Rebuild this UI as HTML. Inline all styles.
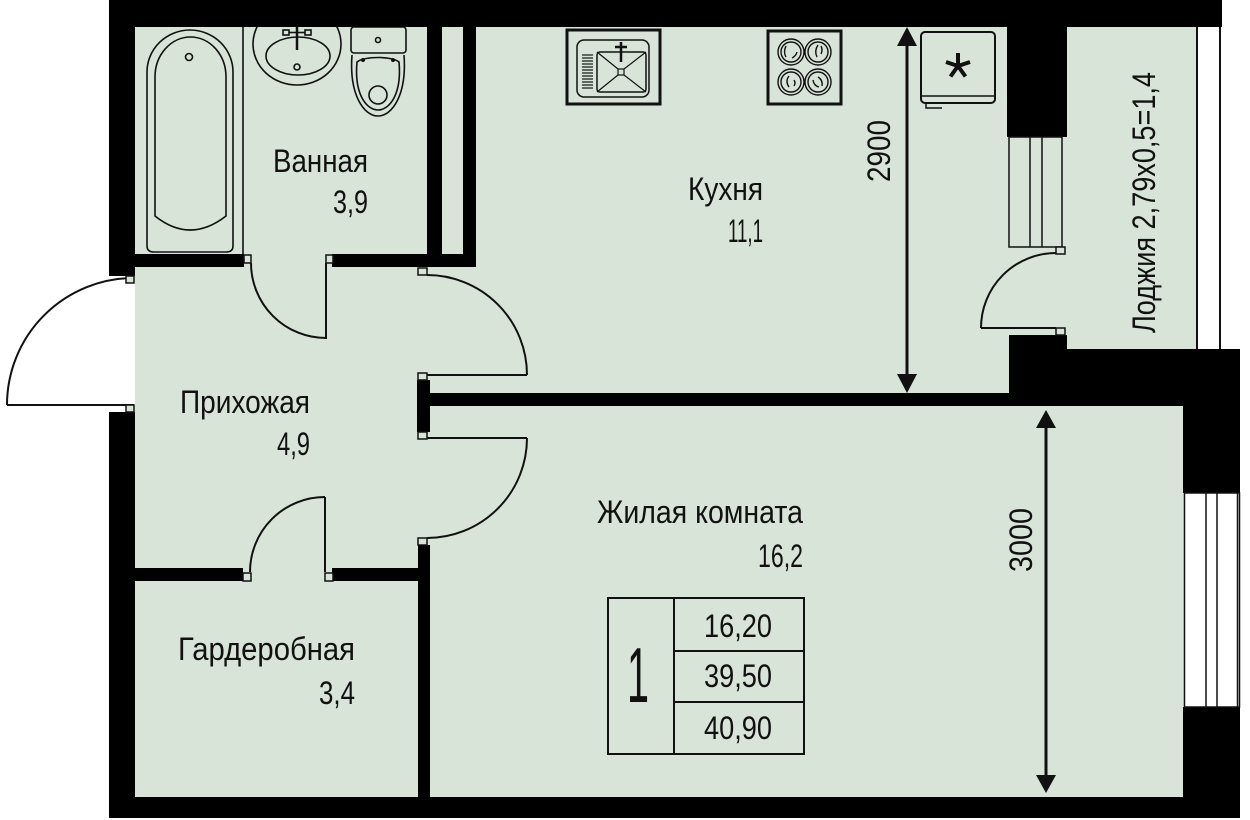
<!DOCTYPE html>
<html>
<head>
<meta charset="utf-8">
<style>
html,body{margin:0;padding:0;background:#fff;}
svg{display:block;}
text{font-family:"Liberation Sans Narrow","Liberation Sans",sans-serif;fill:#111;}
</style>
</head>
<body>
<svg width="1250" height="820" viewBox="0 0 1250 820" xmlns="http://www.w3.org/2000/svg">
<rect width="1250" height="820" fill="#fff"/>
<!-- interior floor -->
<rect x="135" y="27" width="1062" height="770" fill="#d7e4d7"/>

<!-- ===== Bathroom fixtures ===== -->
<g fill="none" stroke="#111" stroke-width="1.6">
  <line x1="243" y1="27" x2="243" y2="255"/>
  <path d="M147,246 V72 A43,42 0 0 1 233,72 V246 Q233,252 226,252 H154 Q147,252 147,246 Z"/>
  <path d="M155,216 V77 A35.5,40 0 0 1 226,77 V216 Q190,244 155,216 Z"/>
  <circle cx="189" cy="57" r="3.5"/>
  <!-- sink -->
  <ellipse cx="297" cy="44" rx="44" ry="41"/>
  <ellipse cx="298" cy="56" rx="32" ry="19"/>
  <circle cx="297" cy="67" r="3"/>
  <rect x="283" y="30" width="6" height="5"/>
  <rect x="305" y="30" width="6" height="5"/>
  <line x1="289" y1="32.5" x2="305" y2="32.5"/>
  <!-- toilet -->
  <rect x="351" y="27" width="55" height="26" rx="3"/>
  <circle cx="378" cy="40" r="2.5"/>
  <path d="M352,55 C349,95 364,116 378,116 C392,116 407,95 404,55"/>
  <path d="M357,62 C354,95 367,110 378,110 C389,110 402,95 399,62 C392,56 364,56 357,62 Z"/>
  <circle cx="378" cy="95" r="9"/>
</g>
<circle cx="363" cy="60" r="2" fill="#111"/>
<circle cx="393" cy="60" r="2" fill="#111"/>
<line x1="297" y1="27" x2="297" y2="50" stroke="#111" stroke-width="2.5"/>

<!-- ===== Kitchen fixtures ===== -->
<g fill="none" stroke="#111">
  <rect x="567" y="30" width="93" height="74" stroke-width="3"/>
  <rect x="577" y="40" width="72" height="57" rx="7" stroke-width="1.5"/>
  <rect x="597" y="52" width="49" height="40" rx="3" stroke-width="1.5"/>
  <line x1="597" y1="52" x2="618" y2="69" stroke-width="1.2"/>
  <line x1="646" y1="52" x2="624" y2="69" stroke-width="1.2"/>
  <line x1="597" y1="92" x2="618" y2="75" stroke-width="1.2"/>
  <line x1="646" y1="92" x2="624" y2="75" stroke-width="1.2"/>
  <rect x="618" y="69" width="6" height="6" stroke-width="1.2"/>
  <line x1="621" y1="42" x2="621" y2="62" stroke-width="2.5"/>
  <line x1="615" y1="47" x2="627" y2="47" stroke-width="2.5"/>
  <g stroke-width="1.2">
    <line x1="582" y1="55" x2="593" y2="55"/><line x1="582" y1="58" x2="593" y2="58"/>
    <line x1="582" y1="61" x2="593" y2="61"/><line x1="582" y1="64" x2="593" y2="64"/>
    <line x1="582" y1="67" x2="593" y2="67"/><line x1="582" y1="70" x2="593" y2="70"/>
    <line x1="582" y1="73" x2="593" y2="73"/><line x1="582" y1="76" x2="593" y2="76"/>
    <line x1="582" y1="79" x2="593" y2="79"/><line x1="582" y1="82" x2="593" y2="82"/>
    <line x1="582" y1="85" x2="593" y2="85"/><line x1="582" y1="88" x2="593" y2="88"/>
  </g>
  <!-- hob -->
  <rect x="768" y="31" width="73" height="73" stroke-width="3"/>
  <g stroke-width="1.4">
    <circle cx="791" cy="52" r="13"/><circle cx="791" cy="52" r="10"/>
    <circle cx="818" cy="52" r="13"/><circle cx="818" cy="52" r="10"/>
    <circle cx="791" cy="82" r="13"/><circle cx="791" cy="82" r="10"/>
    <circle cx="818" cy="82" r="13"/><circle cx="818" cy="82" r="10"/>
    <path d="M786,46 q-3,6 0,11 M792,58 q4,-2 5,-6"/>
    <path d="M818,45 q-4,6 -1,12 M821,46 q2,4 0,8"/>
    <path d="M789,76 q-4,5 0,11 M794,80 q2,3 0,6"/>
    <path d="M813,80 q1,6 6,7 M818,77 q5,3 4,9"/>
  </g>
  <!-- fridge -->
  <rect x="921" y="32" width="74" height="71" rx="4" stroke-width="2"/>
  <line x1="921" y1="96" x2="995" y2="96" stroke-width="1.5"/>
  <path d="M926,103 v5 h16" stroke-width="1.5"/>
</g>
<g stroke="#111" stroke-width="4" stroke-linecap="butt">
  <line x1="958" y1="66" x2="958" y2="53"/>
  <line x1="958" y1="66" x2="970" y2="62"/>
  <line x1="958" y1="66" x2="965.5" y2="76.5"/>
  <line x1="958" y1="66" x2="950.5" y2="76.5"/>
  <line x1="958" y1="66" x2="946" y2="62"/>
</g>

<!-- ===== Walls ===== -->
<g fill="#000">
  <rect x="109" y="0" width="1113" height="27"/>
  <rect x="109" y="0" width="26" height="276"/>
  <rect x="109" y="412" width="26" height="406"/>
  <rect x="109" y="797" width="1131" height="21"/>
  <rect x="427" y="27" width="15" height="240"/>
  <rect x="463" y="27" width="13" height="240"/>
  <rect x="135" y="254" width="109" height="13"/>
  <rect x="332" y="254" width="144" height="13"/>
  <rect x="417" y="393" width="766" height="13"/>
  <rect x="417" y="380" width="13" height="52"/>
  <rect x="418" y="545" width="12" height="252"/>
  <rect x="135" y="568" width="108" height="13"/>
  <rect x="332" y="568" width="86" height="13"/>
  <rect x="1007" y="27" width="60" height="110"/>
  <rect x="1009" y="335" width="58" height="58"/>
  <rect x="1067" y="349" width="173" height="44"/>
  <rect x="1183" y="349" width="57" height="144"/>
  <rect x="1183" y="707" width="57" height="111"/>
</g>

<!-- ===== Windows ===== -->
<g fill="none" stroke="#111" stroke-width="1.5">
  <rect x="1009" y="137" width="53" height="110" fill="#d7e4d7"/>
  <line x1="1030" y1="137" x2="1030" y2="247"/>
  <line x1="1042" y1="137" x2="1042" y2="247"/>
  <line x1="1197" y1="27" x2="1197" y2="349" stroke-width="2"/>
  <line x1="1220" y1="27" x2="1220" y2="349" stroke-width="2"/>
  <rect x="1184.5" y="493" width="55" height="214" fill="#fff"/>
  <line x1="1206" y1="493" x2="1206" y2="707"/>
  <line x1="1217" y1="493" x2="1217" y2="707"/>
  <line x1="1237.5" y1="493" x2="1237.5" y2="707"/>
</g>

<!-- ===== Doors ===== -->
<g fill="none" stroke="#111" stroke-width="2">
  <!-- bathroom -->
  <line x1="326" y1="263" x2="326" y2="339"/>
  <path d="M251,263 A75,75 0 0 0 326,338"/>
  <!-- wardrobe -->
  <line x1="325" y1="572" x2="325" y2="497"/>
  <path d="M325,497 A75,75 0 0 0 250,572"/>
  <!-- kitchen -->
  <line x1="427" y1="375" x2="527" y2="375"/>
  <path d="M427,275 A100,100 0 0 1 527,375"/>
  <!-- living -->
  <line x1="427" y1="438" x2="527" y2="438"/>
  <path d="M527,438 A100,100 0 0 1 427,538"/>
  <!-- entrance -->
  <line x1="134" y1="405" x2="7" y2="405"/>
  <path d="M7,405 A127,127 0 0 1 134,278"/>
  <!-- loggia -->
  <line x1="1056" y1="328" x2="981" y2="328"/>
  <path d="M981,328 A75,75 0 0 1 1056,253"/>
</g>
<!-- jambs -->
<g fill="#d7e4d7" stroke="#111" stroke-width="1.5">
  <rect x="244" y="255" width="7" height="8"/>
  <rect x="326" y="255" width="7" height="8"/>
  <rect x="243" y="573" width="8" height="8"/>
  <rect x="325" y="573" width="8" height="8"/>
  <rect x="418" y="268" width="9" height="7"/>
  <rect x="418" y="373" width="9" height="7"/>
  <rect x="418" y="432" width="9" height="7"/>
  <rect x="418" y="538" width="9" height="7"/>
  <rect x="126" y="276" width="8" height="7"/>
  <rect x="126" y="405" width="8" height="7"/>
  <rect x="1056" y="247" width="9" height="7"/>
  <rect x="1056" y="328" width="9" height="7"/>
</g>

<!-- ===== Dimensions ===== -->
<g fill="#111" stroke="none">
  <rect x="905.5" y="40" width="3" height="340"/>
  <polygon points="907,27 897,46 917,46"/>
  <polygon points="907,393 897,374 917,374"/>
  <rect x="1044.5" y="425" width="3" height="355"/>
  <polygon points="1046,410 1036,428 1056,428"/>
  <polygon points="1046,793 1036,775 1056,775"/>
</g>

<!-- ===== Area table ===== -->
<g fill="none" stroke="#111" stroke-width="2">
  <rect x="608" y="598" width="196" height="156"/>
  <line x1="674" y1="598" x2="674" y2="754"/>
  <line x1="674" y1="651" x2="804" y2="651"/>
  <line x1="674" y1="702" x2="804" y2="702"/>
</g>

<!-- ===== Text ===== -->
<g font-size="32">
  <text x="273" y="172" textLength="95" lengthAdjust="spacingAndGlyphs">Ванная</text>
  <text x="333" y="213" textLength="35" lengthAdjust="spacingAndGlyphs">3,9</text>
  <text x="688" y="200" textLength="75" lengthAdjust="spacingAndGlyphs">Кухня</text>
  <text x="728" y="242" textLength="35" lengthAdjust="spacingAndGlyphs">11,1</text>
  <text x="180" y="413" textLength="130" lengthAdjust="spacingAndGlyphs">Прихожая</text>
  <text x="277" y="455" textLength="33" lengthAdjust="spacingAndGlyphs">4,9</text>
  <text x="597" y="523" textLength="206" lengthAdjust="spacingAndGlyphs">Жилая комната</text>
  <text x="758" y="567" textLength="45" lengthAdjust="spacingAndGlyphs">16,2</text>
  <text x="178" y="660" textLength="177" lengthAdjust="spacingAndGlyphs">Гардеробная</text>
  <text x="319" y="704" textLength="36" lengthAdjust="spacingAndGlyphs">3,4</text>
  <text x="704" y="637" textLength="68" lengthAdjust="spacingAndGlyphs">16,20</text>
  <text x="704" y="687" textLength="68" lengthAdjust="spacingAndGlyphs">39,50</text>
  <text x="704" y="739" textLength="68" lengthAdjust="spacingAndGlyphs">40,90</text>
  <text transform="translate(890,182) rotate(-90)" textLength="62" lengthAdjust="spacingAndGlyphs">2900</text>
  <text transform="translate(1032,572) rotate(-90)" textLength="64" lengthAdjust="spacingAndGlyphs">3000</text>
  <text transform="translate(1155,333) rotate(-90)" textLength="261" lengthAdjust="spacingAndGlyphs">Лоджия 2,79x0,5=1,4</text>
</g>
<text x="627" y="702" font-size="78" textLength="22" lengthAdjust="spacingAndGlyphs">1</text>
</svg>
</body>
</html>
